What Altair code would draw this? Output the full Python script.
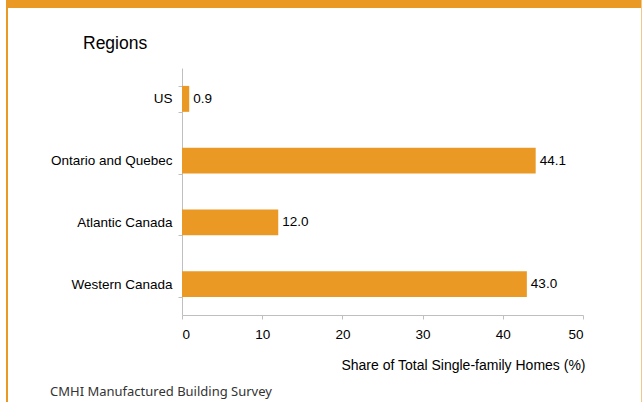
import altair as alt
import pandas as pd

regions = ["US", "Ontario and Quebec", "Atlantic Canada", "Western Canada"]
shares = [0.9, 44.1, 12.0, 43.0]
x_ticks = [0, 10, 20, 30, 40, 50]

df = pd.DataFrame({"region": regions, "share": shares})
df["label"] = df["share"].map(lambda v: f"{v:.1f}")

ORANGE = "#EA9A24"
FONT = "Liberation Sans"

W, H = 401, 247
L, T = 182, 68

y_enc = alt.Y(
    "region:N",
    sort=regions,
    title=None,
    scale=alt.Scale(paddingInner=0.58, paddingOuter=0.29),
    axis=alt.Axis(
        tickBand="extent",
        tickSize=4,
        tickColor="#BFBFBF",
        domainColor="#BFBFBF",
        labelPadding=6,
        labelFontSize=13.5,
        labelFont=FONT,
        labelColor="#000000",
    ),
)
x_enc = alt.X(
    "share:Q",
    scale=alt.Scale(domain=[0, 50], nice=False),
    axis=alt.Axis(
        values=x_ticks,
        grid=False,
        tickSize=4,
        tickColor="#BFBFBF",
        domainColor="#BFBFBF",
        labelPadding=8,
        labelFontSize=13.5,
        labelFont=FONT,
        labelColor="#000000",
        title="Share of Total Single-family Homes (%)",
        titleFont=FONT,
        titleFontSize=14,
        titleFontWeight="normal",
        titleColor="#000000",
        titleAlign="right",
        titleBaseline="middle",
        titleX=W + 2,
        titleY=50,
        titleAnchor="end",
    ),
)

bars = alt.Chart(df).mark_bar(color=ORANGE).encode(x=x_enc, y=y_enc)
texts = alt.Chart(df).mark_text(
    align="left", baseline="middle", dx=4, fontSize=13.5, font=FONT, color="#000000"
).encode(x="share:Q", y=alt.Y("region:N", sort=regions), text="label:N")

deco = pd.DataFrame({"a": [0]})
banner = alt.Chart(deco).mark_rect(color=ORANGE).encode(
    x=alt.value(6 - L), x2=alt.value(642 - L), y=alt.value(-T), y2=alt.value(8 - T)
)
left_border = alt.Chart(deco).mark_rect(color=ORANGE).encode(
    x=alt.value(6 - L), x2=alt.value(8 - L), y=alt.value(-T), y2=alt.value(402 - T)
)
right_border = alt.Chart(deco).mark_rect(color="#F3C68A").encode(
    x=alt.value(641 - L), x2=alt.value(642 - L), y=alt.value(-T), y2=alt.value(402 - T)
)
regions_title = alt.Chart(deco).mark_text(
    text="Regions", align="left", baseline="middle", fontSize=17.5, font=FONT, color="#000000"
).encode(x=alt.value(83 - L), y=alt.value(44 - T))
source = alt.Chart(deco).mark_text(
    text="CMHI Manufactured Building Survey", align="left", baseline="middle",
    fontSize=13, font="Noto Sans", color="#333333"
).encode(x=alt.value(50 - L), y=alt.value(392 - T))

chart = alt.layer(
    bars, texts, banner, left_border, right_border, regions_title, source
).properties(
    width=W, height=H,
    autosize=alt.AutoSizeParams(type="none"),
    padding={"left": L, "top": T, "right": 642 - L - W, "bottom": 402 - T - H},
).configure(background="#FFFFFF").configure_view(stroke=None)

chart.save("out.html", embed_options={"renderer": "svg", "actions": False})
